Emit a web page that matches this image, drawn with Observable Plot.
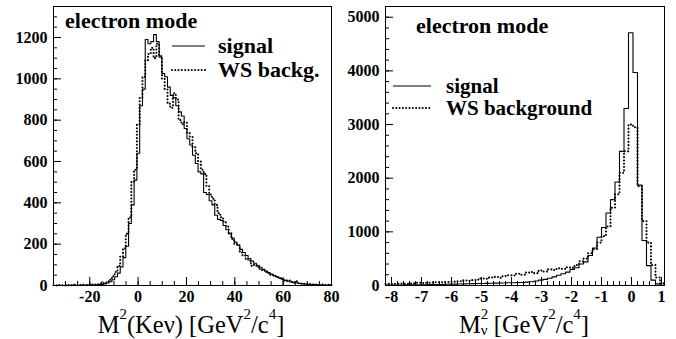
<!DOCTYPE html>
<html><head><meta charset="utf-8">
<script src="https://cdn.jsdelivr.net/npm/d3@7"></script>
<script src="https://cdn.jsdelivr.net/npm/@observablehq/plot@0.6"></script>
<style>
html,body{margin:0;padding:0;background:#fff;}
#wrap{display:flex;width:676px;height:339px;overflow:hidden;background:#fff;}
svg{display:block;}
#wrap svg:first-child{position:relative;z-index:2;}
</style></head><body><div id="wrap"></div>
<script>
// ---------- Left panel: M^2(Kev), 100 bins of 1.15 from -35 ----------
const leftBinStart = -35;
const leftBinWidth = 1.15;
const leftSignal = [
  0,1,0,0,1,0,1,2,0,1,
  2,1,2,3,2,3,4,5,8,12,
  18,28,42,60,90,135,190,300,390,510,
  640,870,950,1190,1170,1180,1214,1180,1105,1025,
  1010,960,920,910,870,840,820,760,710,680,
  630,590,550,540,450,440,410,390,340,320,
  315,290,270,250,230,210,195,175,160,145,
  130,118,108,98,88,78,70,62,55,48,
  42,36,30,25,21,17,14,12,10,8,
  7,6,5,4,3,3,2,2,1,3
];
const leftBackground = [
  1,0,2,1,0,2,1,3,1,2,
  3,2,4,3,5,4,6,9,12,20,
  28,45,65,95,140,180,250,330,500,560,
  780,910,1010,1090,1120,1150,1100,1170,1110,1000,
  950,880,860,930,900,800,780,790,740,720,
  670,640,600,560,540,480,440,420,390,350,
  330,310,285,255,225,200,195,160,145,130,
  120,95,100,90,80,72,65,60,50,45,
  40,35,30,22,25,18,15,20,12,10,
  8,6,7,5,4,3,4,2,3,2
];
const leftXTicks = [-20, 0, 20, 40, 60, 80];
const leftYTicks = [0, 200, 400, 600, 800, 1000, 1200];

// ---------- Right panel: M^2_nu, 62 bins of 0.15 from -8.2 ----------
const rightBinStart = -8.2;
const rightBinWidth = 0.15;
const rightSignal = [
  8,9,10,10,12,12,14,15,15,17,
  18,20,20,22,25,26,28,30,33,35,
  36,38,40,42,44,46,48,50,52,55,
  55,62,70,85,100,115,135,160,190,220,
  250,300,330,400,440,560,700,900,1080,1350,
  1600,1930,2500,3300,4710,3970,1870,840,370,100,
  30,5
];
const rightBackground = [
  30,28,32,35,33,38,42,50,45,52,
  55,60,58,65,70,72,80,95,88,100,
  110,130,125,150,160,145,175,190,185,220,
  200,240,250,230,280,260,300,290,320,310,
  340,330,380,450,500,600,680,800,920,1100,
  1450,1700,2100,2500,3000,2950,1850,1200,800,380,
  150,40
];
const rightXTicks = [-8, -7, -6, -5, -4, -3, -2, -1, 0, 1];
const rightYTicks = [0, 1000, 2000, 3000, 4000, 5000];

const panelTitle = "electron mode";
const leftLegend = ["signal", "WS backg."];
const rightLegend = ["signal", "WS background"];

const FONT = "Liberation Serif, Times New Roman, serif";

function stepPoints(vals, start, width) {
  const pts = vals.map((v, i) => ({x: start + i * width, y: v}));
  pts.push({x: start + vals.length * width, y: vals[vals.length - 1]});
  return pts;
}

function makePanel(c) {
  const fmt = d => String(d);
  const lab = {tickSize: 0, tickFormat: fmt, label: null, fontSize: 16, fontWeight: "bold", fontFamily: FONT};
  return Plot.plot({
    width: c.width, height: 339,
    marginLeft: c.ml, marginRight: c.mr, marginTop: 6, marginBottom: 54,
    style: {fontFamily: FONT, fontSize: "16px", fontWeight: "bold", color: "black", background: "transparent", overflow: "visible"},
    x: {domain: c.xDomain},
    y: {domain: c.yDomain},
    marks: [
      Plot.line(stepPoints(c.sig, c.start, c.bw), {x: "x", y: "y", curve: "step-after", stroke: "black", strokeWidth: 1.1}),
      Plot.line(stepPoints(c.bkg, c.start, c.bw), {x: "x", y: "y", curve: "step-after", stroke: "black", strokeWidth: 2.1, strokeDasharray: "0,3.3", strokeLinecap: "round"}),
      Plot.axisX(c.xMinor, {tickSize: -4, tickFormat: () => "", label: null}),
      Plot.axisX(c.xTicks, {tickSize: -8, tickFormat: () => "", label: null}),
      Plot.axisX(c.xTicks, {...lab, tickPadding: 5}),
      Plot.axisY(c.yMinor, {tickSize: -4, tickFormat: () => "", label: null}),
      Plot.axisY(c.yTicks, {tickSize: -8, tickFormat: () => "", label: null}),
      Plot.axisY(c.yTicks, {...lab, tickPadding: 6}),
      Plot.frame({stroke: "black", strokeWidth: 1})
    ]
  });
}

const leftSvg = makePanel({
  width: 336, ml: 53, mr: 5,
  xDomain: [-35, 80], yDomain: [0, 1350],
  xTicks: leftXTicks, xMinor: d3.range(-35, 81, 5),
  yTicks: leftYTicks, yMinor: d3.range(0, 1351, 50),
  sig: leftSignal, bkg: leftBackground, start: leftBinStart, bw: leftBinWidth
});
const rightSvg = makePanel({
  width: 340, ml: 49, mr: 12,
  xDomain: [-8.2, 1.1], yDomain: [0, 5200],
  xTicks: rightXTicks, xMinor: d3.range(-8.2, 1.11, 0.2).map(v => Math.round(v * 10) / 10),
  yTicks: rightYTicks, yMinor: d3.range(0, 5201, 200),
  sig: rightSignal, bkg: rightBackground, start: rightBinStart, bw: rightBinWidth
});

document.getElementById("wrap").append(leftSvg, rightSvg);

function addText(svg, x, y, txt, size, weight) {
  d3.select(svg).append("text")
    .attr("x", x).attr("y", y).attr("text-anchor", "start")
    .attr("font-family", FONT)
    .attr("font-size", size).attr("font-weight", weight)
    .attr("fill", "black").text(txt);
}
function addLegend(svg, x1, x2, tx, ys, labels, baseOff, size) {
  const g = d3.select(svg).append("g");
  g.append("line").attr("x1", x1).attr("x2", x2).attr("y1", ys[0]).attr("y2", ys[0])
    .attr("stroke", "black").attr("stroke-width", 1.2);
  g.append("line").attr("x1", x1).attr("x2", x2).attr("y1", ys[1]).attr("y2", ys[1])
    .attr("stroke", "black").attr("stroke-width", 2.1).attr("stroke-dasharray", "0,3.3").attr("stroke-linecap", "round");
  labels.forEach((l, i) => addText(svg, tx, ys[i] + baseOff, l, size, "bold"));
}

// Left annotations
addText(leftSvg, 65, 28, panelTitle, 22, "bold");
addLegend(leftSvg, 172, 205, 218, [46, 70], leftLegend, 7, 22);
// Right annotations
addText(rightSvg, 80, 33, panelTitle, 22, "bold");
addLegend(rightSvg, 57, 95, 110, [86, 108], rightLegend, 7, 21);

// Axis titles with super/subscripts
function title(svg, x, parts) {
  const t = d3.select(svg).append("text").attr("x", x).attr("y", 333)
    .attr("text-anchor", "middle").attr("font-family", FONT).attr("font-size", 24.5)
    .attr("font-weight", "normal").attr("fill", "black");
  parts.forEach(p => {
    const s = t.append("tspan").text(p.t);
    if (p.dy) s.attr("dy", p.dy);
    if (p.dx) s.attr("dx", p.dx);
    if (p.size) s.attr("font-size", p.size);
  });
}
title(leftSvg, 191, [
  {t: "M"}, {t: "2", dy: -14, size: 15}, {t: "(Keν) [GeV", dy: 14}, {t: "2", dy: -14, size: 15},
  {t: "/c", dy: 14}, {t: "4", dy: -14, size: 15}, {t: "]", dy: 14}
]);
title(rightSvg, 188, [
  {t: "M"}, {t: "2", dy: -14, size: 15}, {t: "ν", dx: -7.5, dy: 16, size: 15}, {t: " [GeV", dy: -2},
  {t: "2", dy: -14, size: 15}, {t: "/c", dy: 14}, {t: "4", dy: -14, size: 15}, {t: "]", dy: 14}
]);
</script></body></html>
